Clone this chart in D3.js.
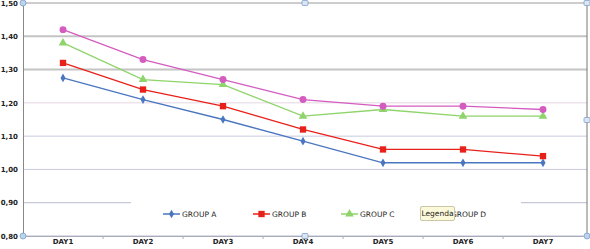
<!DOCTYPE html>
<html>
<head>
<meta charset="utf-8">
<script src="https://cdn.jsdelivr.net/npm/d3@7"></script>
<style>
  body { margin: 0; background: #fff; }
  text { font-family: "DejaVu Sans", sans-serif; }
</style>
</head>
<body>
<div id="chart"></div>
<script>
var days = ["DAY1", "DAY2", "DAY3", "DAY4", "DAY5", "DAY6", "DAY7"];
var groupNames = ["GROUP A", "GROUP B", "GROUP C", "GROUP D"];
var groupA = [1.275, 1.21, 1.15, 1.085, 1.02, 1.02, 1.02];
var groupB = [1.32, 1.24, 1.19, 1.12, 1.06, 1.06, 1.04];
var groupC = [1.38, 1.27, 1.255, 1.16, 1.18, 1.16, 1.16];
var groupD = [1.42, 1.33, 1.27, 1.21, 1.19, 1.19, 1.18];
var yTicks = [0.8, 0.9, 1.0, 1.1, 1.2, 1.3, 1.4, 1.5];

function init(){
    var w = 590;
    var h = 249;
    var left = 23, right = 583, top = 3, bottom = 236;

    var series = [
        {name: groupNames[0], values: groupA, color: "#4a76c0", symbol: d3.symbolDiamond, size: 22},
        {name: groupNames[1], values: groupB, color: "#e8201a", symbol: d3.symbolSquare, size: 40},
        {name: groupNames[2], values: groupC, color: "#8ed46a", symbol: d3.symbolTriangle, size: 32},
        {name: groupNames[3], values: groupD, color: "#d45cc0", symbol: d3.symbolCircle, size: 38}
    ];

    var xScale = d3.scaleBand().domain(days).range([left, right]);
    var yScale = d3.scaleLinear().domain([0.8, 1.5]).range([bottom, top]);

    var svg = d3.select("#chart").append("svg")
        .attr("width", w)
        .attr("height", h);

    // gridlines
    var gridStyle = {
        "1.5": ["#9a9a9a", 1], "1.4": ["#c4c4c4", 2], "1.3": ["#c4c4c4", 2],
        "1.2": ["#e6d6e0", 1], "1.1": ["#c9cbe0", 1], "1": ["#c9cbe0", 1],
        "0.9": ["#b8bccf", 1], "0.8": ["#b8bccf", 1]
    };
    yTicks.forEach(function(t){
        var st = gridStyle[String(+t.toFixed(1))];
        svg.append("line")
            .attr("x1", left).attr("x2", 587)
            .attr("y1", yScale(t)).attr("y2", yScale(t))
            .attr("stroke", st[0])
            .attr("stroke-width", st[1]);
    });

    // right frame edge
    svg.append("line")
        .attr("x1", 587).attr("x2", 587)
        .attr("y1", top).attr("y2", bottom)
        .attr("stroke", "#777").attr("stroke-width", 1);

    // y axis
    var yAxis = d3.axisLeft(yScale)
        .tickValues(yTicks)
        .tickSize(0)
        .tickPadding(5)
        .tickFormat(function(d){ return d3.format(".2f")(d).replace(".", ","); });
    var gy = svg.append("g")
        .attr("transform", "translate(" + left + ",0)")
        .call(yAxis);
    gy.select(".domain").attr("stroke", "#888");
    gy.selectAll("text").attr("font-size", "7px").attr("fill", "#222").attr("font-weight", "bold");

    // x axis
    var xAxis = d3.axisBottom(xScale).tickSize(0).tickPadding(3);
    var gx = svg.append("g")
        .attr("transform", "translate(0," + bottom + ")")
        .call(xAxis);
    gx.select(".domain").attr("stroke", "#aab");
    gx.selectAll("text").attr("font-size", "7px").attr("fill", "#222").attr("font-weight", "bold");
    days.slice(1).forEach(function(d){
        gx.append("line")
            .attr("x1", xScale(d)).attr("x2", xScale(d))
            .attr("y1", 0).attr("y2", 3)
            .attr("stroke", "#aab");
    });

    // lines and markers
    var line = d3.line()
        .x(function(d, i){ return xScale(days[i]) + xScale.bandwidth() / 2; })
        .y(function(d){ return yScale(d); });

    series.forEach(function(s){
        svg.append("path")
            .datum(s.values)
            .attr("d", line)
            .attr("fill", "none")
            .attr("stroke", s.color)
            .attr("stroke-width", 1.3);
        svg.selectAll(null)
            .data(s.values)
            .enter().append("path")
            .attr("d", d3.symbol().type(s.symbol).size(s.size))
            .attr("transform", function(d, i){
                return "translate(" + (xScale(days[i]) + xScale.bandwidth() / 2) + "," + yScale(d) + ")";
            })
            .attr("fill", s.color);
    });

    // legend box (hides the middle of the 0,90 gridline)
    var legend = svg.append("g");
    legend.append("rect")
        .attr("x", 131).attr("y", 196)
        .attr("width", 390).attr("height", 36)
        .attr("fill", "#fff");

    var legendX = [163, 253, 341, 432];
    series.forEach(function(s, i){
        var g = legend.append("g").attr("transform", "translate(" + legendX[i] + ",214)");
        g.append("line")
            .attr("x1", 0).attr("x2", 17)
            .attr("stroke", s.color).attr("stroke-width", 1.5);
        g.append("path")
            .attr("d", d3.symbol().type(s.symbol).size(s.size))
            .attr("transform", "translate(8.5,0)")
            .attr("fill", s.color);
        g.append("text")
            .attr("x", 19).attr("y", 3)
            .attr("font-size", "7.5px")
            .attr("fill", "#222")
            .text(s.name);
    });

    // tooltip "Legenda"
    var tip = svg.append("g").attr("transform", "translate(420,206)");
    tip.append("rect")
        .attr("x", 0.5).attr("y", 0.5)
        .attr("width", 34).attr("height", 14)
        .attr("rx", 1.5)
        .attr("fill", "#fbf9d9")
        .attr("stroke", "#c9c7a6");
    tip.append("text")
        .attr("x", 17.5).attr("y", 10)
        .attr("text-anchor", "middle")
        .attr("font-size", "7.5px")
        .attr("fill", "#222")
        .text("Legenda");

    // selection handles
    var handles = [[left, top, "c"], [left, bottom, "c"], [305, top, "s"], [305, bottom, "s"],
                   [587, top, "s"], [587, 120, "s"], [587, bottom, "c"]];
    handles.forEach(function(p){
        if (p[2] === "c") {
            svg.append("circle").attr("cx", p[0]).attr("cy", p[1]).attr("r", 3)
                .attr("fill", "#bcd3ee").attr("stroke", "#7f9fc9").attr("stroke-width", 0.8);
        } else {
            svg.append("rect").attr("x", p[0] - 3).attr("y", p[1] - 2.5)
                .attr("width", 6).attr("height", 5).attr("rx", 1)
                .attr("fill", "#dbe6f4").attr("stroke", "#7f9fc9").attr("stroke-width", 0.8);
        }
    });
}
window.onload = init;
</script>
</body>
</html>
